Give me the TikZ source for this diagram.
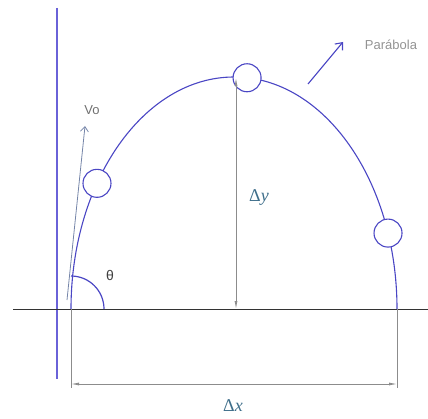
\documentclass[tikz,border=0pt]{standalone}
\usepackage{fontspec}
\setmainfont{Liberation Sans}
\newfontfamily\mathlike{Liberation Serif}
\usetikzlibrary{arrows.meta,calc}
\definecolor{curveblue}{HTML}{4A46C4}
\definecolor{wallblue}{HTML}{6A62D8}
\definecolor{dimgray}{HTML}{8C8C8C}
\definecolor{labgray}{HTML}{707070}
\definecolor{mathteal}{HTML}{3E6E8A}
\definecolor{vogray}{HTML}{7484A8}
\begin{document}
\begin{tikzpicture}[x=1pt,y=1pt,
  ball/.style={circle,draw=curveblue,fill=white,line width=1.1pt,minimum size=28pt,inner sep=0pt},
  dimline/.style={draw=dimgray,line width=0.8pt},
  dimarrow/.style={dimline,{Latex[length=8pt,width=3pt]}-{Latex[length=8pt,width=3pt]}},
  mathlab/.style={text=mathteal,font=\mathlike\fontsize{18}{20}\selectfont},
  sanslab/.style={text=labgray,font=\fontsize{13}{15}\selectfont}]
\useasboundingbox (0,0) rectangle (428,418);
% wall and ground
\draw[wallblue,line width=1.7pt] (57,410) -- (57,39);
\draw[black!80,line width=1pt] (13,109) -- (428,109);
% trajectory
\coordinate (c) at (234,109);
\coordinate (start) at (71,109);
\coordinate (end) at (397,109);
\draw[curveblue,line width=1.1pt] (start) arc[start angle=180,end angle=0,x radius=163,y radius=232];
% angle
\draw[curveblue,line width=1.2pt] ($(start)+(33,0)$) arc[start angle=0,end angle=90,radius=33];
\node[font=\fontsize{14}{16}\selectfont,text=black!75] (theta) at (110,143) {θ};
% initial velocity
\coordinate (v0a) at (67,118);
\coordinate (v0b) at (85,292);
\draw[vogray,line width=0.8pt,-{Straight Barb[length=5pt,width=8pt]}] (v0a) -- (v0b);
\node[sanslab] (vo) at (92,308) {Vo};
% balls
\node[ball] (b1) at ($(c)+(147.2:163 and 232)$) {};
\node[ball] (b2) at ($(c)+(85.4:163 and 232)$) {};
\node[ball] (b3) at ($(c)+(19.1:163 and 232)$) {};
% delta y
\coordinate (dyt) at (236,340);
\coordinate (dyb) at (236,109);
\draw[dimarrow] (dyb) -- (dyt);
\node[mathlab] (dy) at (259,220) {Δ\textit{y}};
% delta x
\coordinate (ex1) at (71,30);
\coordinate (ex2) at (397,30);
\coordinate (dxl) at (71,34);
\coordinate (dxr) at (397,34);
\draw[dimline] (start) -- (ex1);
\draw[dimline] (end) -- (ex2);
\draw[dimarrow] (dxl) -- (dxr);
\node[mathlab] (dx) at (233,12) {Δ\textit{x}};
% parabola label
\coordinate (pa) at (308,334);
\coordinate (pb) at (343,376);
\draw[curveblue,line width=1.1pt,-{Straight Barb[length=6pt,width=10pt]}] (pa) -- (pb);
\node[sanslab,text=gray!85] (par) at (391,373) {Parábola};
\end{tikzpicture}
\end{document}
